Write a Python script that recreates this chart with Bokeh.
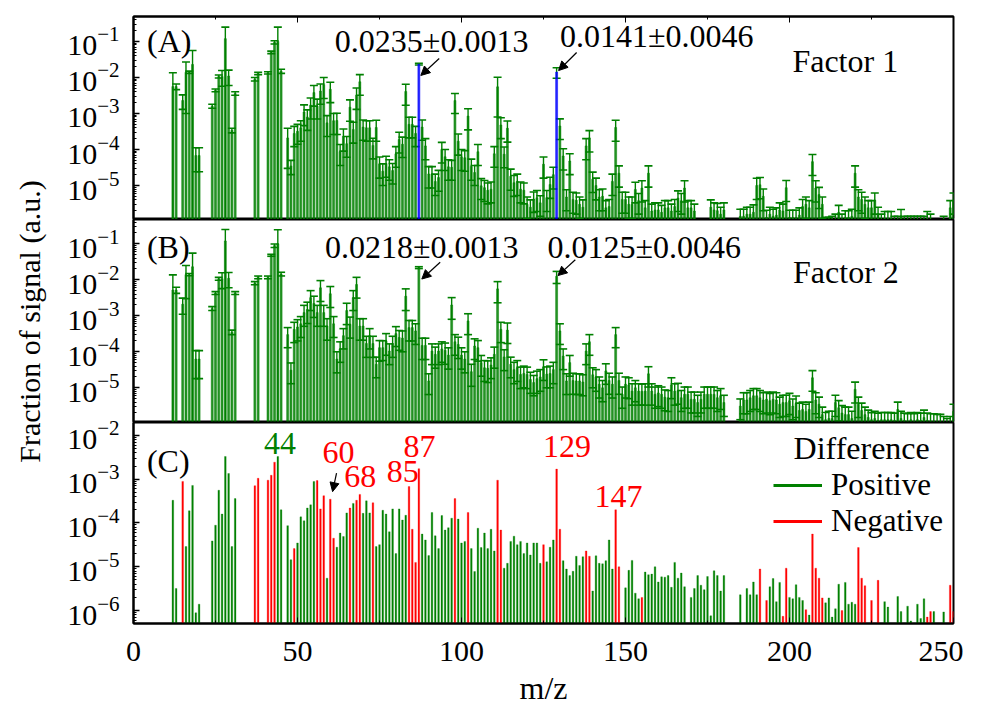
import math
from bokeh.plotting import figure
from bokeh.layouts import column, row
from bokeh.models import (ColumnDataSource, Whisker, TeeHead, Label, Arrow, NormalHead,
                          Range1d, Legend, LegendItem, FixedTicker, LinearAxis)
from bokeh.embed import file_html
from bokeh.resources import INLINE

FONT = "Liberation Serif"
GREEN = "#008000"
RED = "#ff0000"
BLUE = "#0000ff"

# ---------------- data ----------------
mz = ([12, 13, 15, 16, 17, 18, 19, 20, 24, 25, 26, 27, 28, 29, 30, 31, 37, 38, 41, 42, 43, 44, 45]
      + list(range(47, 181)) + list(range(185, 251)))

# Factor 1 (panel A): value and uncertainty
f1_val = [5.6e-3, 5.6e-3, 2.3e-3, 1.4e-2, 1.4e-2, 2.3e-2, 6.8e-5, 6.8e-5,
          1.6e-3, 4.4e-3, 1.07e-2, 1.07e-2, 1.2e-1, 1.1e-2, 3.4e-4, 3.6e-3,
          9.0e-3, 1.3e-2, 1.35e-2, 5.0e-2, 9.5e-2, 1.0e-1, 1.5e-2,
          # 47-86
          2.1e-4, 3.5e-5, 2.8e-4, 3.2e-4, 4.0e-4, 1.1e-3, 8.0e-4, 1.7e-3, 3.8e-3, 1.6e-3,
          4.2e-3, 6.3e-3, 5.5e-4, 4.7e-3, 6.3e-4, 6.4e-4, 8.7e-5, 2.3e-4, 1.45e-4, 1.5e-3,
          3.6e-4, 3.2e-3, 7.6e-3, 4.2e-4, 4.0e-4, 4.0e-4, 1.3e-4, 4.1e-4, 3.9e-5, 2.5e-5,
          4.1e-5, 3.3e-5, 2.6e-5, 7.6e-5, 1.9e-4, 1.4e-4, 4.1e-3, 5.0e-4, 5.0e-4, 2.8e-4,
          # 87-126
          2.35e-2, 4.2e-4, 1.26e-4, 2.1e-5, 2.1e-5, 1.3e-5, 1.66e-5, 1.0e-4, 6.3e-5, 3.3e-5,
          3.2e-5, 2.3e-3, 1.7e-4, 6.3e-5, 5.9e-5, 8.5e-4, 3.4e-5, 2.3e-5, 8.7e-5, 9.8e-6,
          8.7e-6, 7.4e-6, 7.9e-6, 7.6e-5, 5.5e-3, 4.8e-4, 7.4e-5, 3.9e-4, 1.8e-5, 1.2e-5,
          1.3e-5, 7.9e-6, 7.4e-6, 3.0e-6, 2.5e-6, 4.2e-6, 4.6e-6, 3.3e-6, 3.9e-5, 4.6e-6,
          # 127-166
          1.07e-5, 2.0e-5, 1.41e-2, 4.5e-4, 6.6e-5, 4.8e-6, 4.8e-5, 4.1e-6, 3.9e-6, 3.0e-6,
          2.5e-6, 1.26e-4, 2.1e-4, 1.5e-5, 1.0e-5, 4.8e-6, 5.0e-6, 2.4e-6, 2.6e-6, 1.3e-5,
          4.1e-4, 2.2e-5, 4.1e-6, 4.1e-6, 3.0e-6, 3.0e-6, 7.8e-6, 3.8e-6, 8.5e-6, 2.4e-6,
          2.2e-5, 1.95e-6, 2.1e-6, 2.1e-6, 1.8e-6, 2.4e-6, 2.4e-6, 1.95e-6, 2.6e-6, 4.5e-6,
          # 167-180
          3.8e-6, 8.5e-6, 2.4e-6, 2.4e-6, 1.95e-6, 9e-7, 9e-7, 9e-7, 9e-7, 2.5e-6,
          2.1e-6, 2.0e-6, 1.6e-6, 2.1e-6,
          # 185-250
          1.4e-6, 1.4e-6, 1.6e-6, 1.6e-6, 1.8e-6, 1.0e-5, 1.05e-5, 5.0e-6, 1.3e-6, 1.6e-6,
          1.4e-6, 1.5e-6, 2.1e-6, 1.95e-6, 8.7e-6, 1.3e-6, 1.3e-6, 1.3e-6, 1.5e-6, 2.6e-6,
          3.0e-6, 2.4e-6, 4.6e-5, 8.5e-6, 5.6e-6, 3.0e-6, 1.0e-6, 1.0e-6, 1.1e-6, 1.1e-6,
          1.8e-6, 1.1e-6, 1.3e-6, 1.3e-6, 1.4e-6, 2.2e-5, 4.8e-6, 4.1e-6, 3.0e-6, 2.4e-6,
          2.4e-6, 3.9e-6, 1.6e-6, 1.1e-6, 1.2e-6, 1.2e-6, 1.2e-6, 1.0e-6, 1.0e-6, 1.35e-6,
          1.0e-6, 1.0e-6, 1.0e-6, 1.0e-6, 1.0e-6, 1.0e-6, 1.0e-6, 1.2e-6, 1.1e-6, 9e-7,
          9e-7, 9e-7, 1.0e-6, 9e-7, 2.4e-6, 3.9e-6]
f1_err = [8.0e-3, 1.0e-3, 1.0e-3, 1.3e-2, 1.0e-3, 3.3e-2, 4.4e-5, 4.4e-5,
          2.0e-4, 4.0e-4, 1.0e-3, 5.0e-3, 1.3e-1, 5.0e-3, 5.0e-5, 4.0e-4,
          1.0e-3, 1.0e-3, 1.0e-3, 4.0e-3, 1.0e-2, 1.5e-1, 2.0e-3,
          1.8e-4, 1.5e-5, 1.6e-4, 1.8e-4, 2.3e-4, 6.4e-4, 4.6e-4, 1.0e-3, 2.2e-3, 9.0e-4,
          2.4e-3, 3.7e-3, 3.2e-4, 2.7e-3, 3.7e-4, 3.8e-4, 5.1e-5, 1.4e-4, 8.4e-5, 8.9e-4,
          2.1e-4, 1.9e-3, 4.4e-3, 2.4e-4, 2.3e-4, 2.3e-4, 7.5e-5, 2.4e-4, 2.3e-5, 1.5e-5,
          2.4e-5, 1.9e-5, 1.5e-5, 4.4e-5, 1.1e-4, 8.0e-5, 2.4e-3, 2.9e-4, 2.9e-4, 1.6e-4,
          1.3e-3, 2.4e-4, 7.4e-5, 1.25e-5, 1.25e-5, 7.7e-6, 9.7e-6, 5.8e-5, 3.7e-5, 1.9e-5,
          1.8e-5, 1.3e-3, 1.0e-4, 3.7e-5, 3.4e-5, 5.0e-4, 2.0e-5, 1.3e-5, 5.1e-5, 5.7e-6,
          5.1e-6, 4.3e-6, 4.6e-6, 4.4e-5, 4.7e-3, 2.8e-4, 4.3e-5, 2.3e-4, 1.06e-5, 7.0e-6,
          7.7e-6, 4.6e-6, 4.3e-6, 1.8e-6, 1.5e-6, 2.4e-6, 2.7e-6, 1.9e-6, 2.3e-5, 2.7e-6,
          6.3e-6, 1.2e-5, 4.6e-3, 2.6e-4, 3.9e-5, 2.8e-6, 2.8e-5, 2.4e-6, 2.3e-6, 1.8e-6,
          1.5e-6, 7.4e-5, 1.25e-4, 8.6e-6, 6.0e-6, 2.8e-6, 3.0e-6, 1.4e-6, 1.5e-6, 7.7e-6,
          2.4e-4, 1.3e-5, 2.4e-6, 2.4e-6, 1.8e-6, 1.8e-6, 4.5e-6, 2.2e-6, 5.0e-6, 1.4e-6,
          1.3e-5, 1.1e-6, 1.2e-6, 1.2e-6, 1.0e-6, 1.4e-6, 1.4e-6, 1.1e-6, 1.5e-6, 2.6e-6,
          2.2e-6, 5.0e-6, 1.4e-6, 1.4e-6, 1.1e-6, 2e-7, 2e-7, 2e-7, 2e-7, 1.5e-6,
          1.2e-6, 1.2e-6, 9e-7, 1.2e-6,
          8e-7, 8e-7, 9e-7, 9e-7, 1.1e-6, 5.9e-6, 6.2e-6, 3.0e-6, 7.5e-7, 9e-7,
          8e-7, 9e-7, 1.2e-6, 1.1e-6, 5.1e-6, 7.5e-7, 7.5e-7, 7.5e-7, 9e-7, 1.5e-6,
          1.8e-6, 1.4e-6, 2.7e-5, 5.0e-6, 3.3e-6, 1.8e-6, 3e-7, 3e-7, 3e-7, 5e-7,
          1.0e-6, 5e-7, 7e-7, 7e-7, 8e-7, 1.3e-5, 2.8e-6, 2.4e-6, 1.8e-6, 1.4e-6,
          1.4e-6, 2.3e-6, 9e-7, 5e-7, 7e-7, 7e-7, 7e-7, 4e-7, 4e-7, 8e-7,
          4e-7, 4e-7, 4e-7, 4e-7, 4e-7, 4e-7, 4e-7, 7e-7, 5e-7, 2e-7,
          2e-7, 2e-7, 4e-7, 2e-7, 1.4e-6, 2.3e-6]

# Factor 2 (panel B)
f2_val = [5.2e-3, 5.2e-3, 2.1e-3, 1.4e-2, 1.4e-2, 2.3e-2, 6.3e-5, 6.3e-5,
          1.6e-3, 4.3e-3, 1.07e-2, 1.07e-2, 1.2e-1, 1.1e-2, 3.5e-4, 4.3e-3,
          8.1e-3, 1.17e-2, 1.17e-2, 4.8e-2, 8.9e-2, 1.0e-1, 1.45e-2,
          3.0e-4, 3.1e-5, 4.2e-4, 4.9e-4, 6.0e-4, 1.23e-3, 1.5e-3, 3.2e-3, 2.2e-3, 1.23e-3,
          6.0e-3, 1.23e-3, 5.2e-4, 4.1e-3, 6.0e-4, 6.3e-5, 1.2e-4, 2.8e-4, 1.4e-3, 5.8e-4,
          3.2e-3, 7.4e-3, 5.2e-4, 5.2e-4, 1.7e-4, 2.8e-4, 1.7e-4, 4.5e-5, 1.3e-4, 1.3e-4,
          2.0e-4, 1.05e-4, 1.7e-4, 3.2e-4, 2.5e-4, 2.4e-4, 3.5e-3, 4.7e-4, 4.7e-4, 3.8e-4,
          2.18e-2, 1.5e-4, 1.5e-4, 1.55e-5, 1.05e-4, 8.5e-5, 1.05e-4, 1.2e-4, 1.1e-4, 8.1e-5,
          2.0e-3, 1.9e-4, 1.6e-4, 8.1e-5, 6.3e-5, 7.2e-4, 2.8e-5, 1.45e-4, 1.3e-4, 5.0e-5,
          3.6e-5, 3.5e-5, 4.3e-5, 8.5e-5, 5.6e-3, 4.2e-4, 7.2e-5, 4.0e-4, 4.5e-5, 3.2e-5,
          3.6e-5, 2.35e-5, 2.5e-5, 2.35e-5, 1.7e-5, 1.4e-5, 1.8e-5, 2.0e-5, 3.8e-5, 2.4e-5,
          2.5e-5, 3.2e-5, 1.25e-2, 3.8e-4, 7.6e-5, 1.55e-5, 5.0e-5, 1.6e-5, 1.55e-5, 1.55e-5,
          1.45e-5, 1.05e-4, 1.9e-4, 2.3e-5, 2.0e-5, 1.26e-5, 1.0e-5, 2.95e-5, 1.6e-5, 1.26e-5,
          3.0e-4, 1.6e-5, 6.6e-6, 1.26e-5, 1.2e-5, 8.1e-6, 1.0e-5, 8.1e-6, 8.0e-6, 8.1e-6,
          2.45e-5, 8.1e-6, 6.6e-6, 7.2e-6, 6.6e-6, 5.5e-6, 5.3e-6, 1.2e-5, 8.1e-6, 8.4e-6,
          5.3e-6, 6.6e-6, 6.6e-6, 4.8e-6, 4.8e-6, 3.9e-6, 4.8e-6, 6.6e-6, 6.6e-6, 6.6e-6,
          6.6e-6, 5.3e-6, 6.0e-6, 3.9e-6,
          3.1e-6, 4.6e-6, 4.6e-6, 5.3e-6, 6.0e-6, 6.0e-6, 5.3e-6, 4.6e-6, 4.8e-6, 4.4e-6,
          4.8e-6, 4.6e-6, 3.5e-6, 3.9e-6, 3.9e-6, 4.4e-6, 3.1e-6, 3.7e-6, 2.35e-6, 2.5e-6,
          2.2e-6, 2.5e-6, 1.9e-5, 4.6e-6, 3.5e-6, 1.8e-6, 1.3e-6, 1.4e-6, 1.4e-6, 3.9e-6,
          2.8e-6, 2.0e-6, 1.8e-6, 1.8e-6, 1.4e-6, 9.1e-6, 3.5e-6, 2.35e-6, 1.8e-6, 1.5e-6,
          1.3e-6, 1.4e-6, 1.25e-6, 1.3e-6, 1.3e-6, 1.3e-6, 1.3e-6, 1.25e-6, 2.5e-6, 1.4e-6,
          1.25e-6, 1.2e-6, 1.3e-6, 1.2e-6, 1.3e-6, 1.25e-6, 1.5e-6, 1.25e-6, 1.2e-6, 1.2e-6,
          1.15e-6, 1.15e-6, 1.0e-6, 9e-7, 1.0e-6, 2.2e-6]
f2_err = [8.5e-3, 1.0e-3, 1.0e-3, 1.1e-2, 1.0e-3, 3.2e-2, 4.5e-5, 4.5e-5,
          2.0e-4, 4.0e-4, 1.0e-3, 5.0e-3, 1.3e-1, 5.0e-3, 5.0e-5, 4.0e-4,
          8.0e-4, 1.0e-3, 1.0e-3, 3.0e-3, 1.0e-2, 1.45e-1, 1.7e-3,
          1.7e-4, 1.8e-5, 2.4e-4, 2.9e-4, 3.5e-4, 7.2e-4, 8.9e-4, 1.8e-3, 1.3e-3, 7.2e-4,
          3.5e-3, 7.2e-4, 3.1e-4, 2.4e-3, 3.5e-4, 3.7e-5, 6.9e-5, 1.6e-4, 8.3e-4, 3.4e-4,
          1.8e-3, 4.3e-3, 3.1e-4, 3.1e-4, 1.0e-4, 1.6e-4, 1.0e-4, 2.6e-5, 7.5e-5, 7.3e-5,
          1.2e-4, 6.1e-5, 1.0e-4, 1.8e-4, 1.4e-4, 1.4e-4, 2.1e-3, 2.7e-4, 2.7e-4, 2.2e-4,
          1.3e-3, 8.9e-5, 8.9e-5, 9.0e-6, 6.1e-5, 5.0e-5, 6.1e-5, 6.9e-5, 6.5e-5, 4.8e-5,
          1.2e-3, 1.1e-4, 9.5e-5, 4.8e-5, 3.7e-5, 4.2e-4, 1.7e-5, 8.4e-5, 7.5e-5, 2.9e-5,
          2.1e-5, 2.1e-5, 2.5e-5, 5.0e-5, 3.3e-3, 2.4e-4, 4.2e-5, 2.3e-4, 2.6e-5, 1.9e-5,
          2.1e-5, 1.4e-5, 1.5e-5, 1.4e-5, 1.0e-5, 8.0e-6, 1.1e-5, 1.2e-5, 2.2e-5, 1.4e-5,
          1.5e-5, 1.9e-5, 4.6e-3, 2.2e-4, 4.4e-5, 9.0e-6, 2.9e-5, 9.4e-6, 9.0e-6, 9.0e-6,
          8.5e-6, 6.1e-5, 1.1e-4, 1.3e-5, 1.2e-5, 7.4e-6, 5.9e-6, 1.7e-5, 9.4e-6, 7.4e-6,
          1.7e-4, 9.4e-6, 3.9e-6, 7.4e-6, 7.0e-6, 4.8e-6, 5.9e-6, 4.8e-6, 4.7e-6, 4.8e-6,
          1.4e-5, 4.8e-6, 3.9e-6, 4.2e-6, 3.9e-6, 3.2e-6, 3.1e-6, 7.0e-6, 4.8e-6, 4.9e-6,
          3.1e-6, 3.9e-6, 3.9e-6, 2.8e-6, 2.8e-6, 2.3e-6, 2.8e-6, 3.9e-6, 3.9e-6, 3.9e-6,
          3.9e-6, 3.1e-6, 3.5e-6, 2.3e-6,
          1.8e-6, 2.7e-6, 2.7e-6, 3.1e-6, 3.5e-6, 3.5e-6, 3.1e-6, 2.7e-6, 2.8e-6, 2.6e-6,
          2.8e-6, 2.7e-6, 2.0e-6, 2.3e-6, 2.3e-6, 2.6e-6, 1.8e-6, 2.2e-6, 1.4e-6, 1.5e-6,
          1.3e-6, 1.5e-6, 1.1e-5, 2.7e-6, 2.0e-6, 1.1e-6, 7.7e-7, 8.3e-7, 8.3e-7, 2.3e-6,
          1.6e-6, 1.2e-6, 1.1e-6, 1.1e-6, 8.3e-7, 5.3e-6, 2.0e-6, 1.4e-6, 1.1e-6, 9e-7,
          7.5e-7, 8.3e-7, 7.3e-7, 7.7e-7, 7.7e-7, 7.5e-7, 7.5e-7, 7.3e-7, 1.5e-6, 8.3e-7,
          7.3e-7, 7e-7, 7.7e-7, 7e-7, 7.7e-7, 7.3e-7, 9e-7, 7.3e-7, 7e-7, 7e-7,
          6.8e-7, 6.8e-7, 6e-7, 5e-7, 6e-7, 1.3e-6]

# Difference (panel C): positive -> green, negative -> red, 0 -> not shown
diff = [3.3e-4, 3.2e-6, -8.9e-4, 2.9e-5, 1.9e-4, 7.2e-4, 8.9e-7, 1.4e-6,
        3.9e-5, 8.9e-5, 5.6e-4, 1.6e-4, 3.3e-3, 1.35e-3, 2.9e-5, 3.6e-4,
        -7.1e-4, -1.05e-3, -9.5e-4, -1.23e-3, -2.45e-3, 3.3e-3, 2.0e-4,
        8.7e-5, 1.45e-5, -2.6e-5, 3.5e-5, 1.38e-4, 1.12e-4, 2.2e-4, 2.6e-4, 8.9e-4, -9.3e-4,
        -2.1e-4, -4.2e-4, 5.5e-6, -3.5e-4, -4.5e-5, 2.8e-5, 5.9e-5, 4.9e-5, 1.7e-4, -2.2e-4,
        2.8e-4, -3.3e-4, -4.5e-4, 1.66e-4, 3.2e-4, 1.7e-4, -2.9e-4, 2.9e-5, 3.2e-5, 1.95e-4,
        1.6e-4, 6.3e-5, 2.1e-4, 2.0e-5, 2.1e-4, 1.17e-4, 1.5e-4, -6.8e-4, -7.2e-5, -1.26e-5,
        -1.74e-3, 5.6e-5, 4.1e-5, 1.8e-5, 1.74e-4, 5.1e-5, 2.6e-5, 1.48e-4, 6.9e-5, 7.8e-5,
        1.29e-4, -3.6e-4, 1.23e-4, 3.5e-5, 3.8e-5, -1.74e-4, 2.6e-5, 7.8e-6, 7.6e-5, 2.75e-5,
        5.9e-5, 2.6e-5, 7.2e-5, 2.3e-5, -9.5e-4, -6.9e-5, 9.3e-6, 1.2e-5, 3.8e-5, 5.0e-5,
        3.2e-5, 3.8e-5, 2.0e-5, 3.5e-5, 1.86e-5, 3.5e-5, 3.5e-5, 1.2e-5, -3.2e-5, 1.3e-5,
        2.8e-5, 4.1e-5, -1.7e-3, -7.2e-5, 1.38e-5, 8.9e-6, 6.3e-6, 7.9e-6, 1.74e-5, 1.07e-5,
        1.7e-5, -2.3e-5, -1.74e-5, 2.8e-6, 1.78e-5, 1.2e-5, 1.17e-5, 1.38e-5, 4.1e-5, 8.9e-6,
        -2.0e-4, -1.0e-5, 0, 3.3e-6, 8.3e-6, 1.4e-5, 2.5e-6, 1.86e-6, -2.0e-6, 7.6e-6,
        6.6e-6, 6.8e-6, 1.0e-5, 4.5e-6, 5.9e-6, 5.8e-6, 6.3e-6, 3.4e-6, 1.26e-5, 5.5e-6,
        7.2e-6, 3.5e-6, 0, 2.0e-6, 3.2e-6, 6.3e-6, 3.8e-6, 3.0e-6, 6.0e-6, 7.6e-7,
        8.1e-6, 6.3e-6, 2.8e-6, 6.3e-6,
        2.3e-6, 0, 3.2e-6, 2.3e-6, 4.5e-6, 2.3e-6, -8.9e-6, 0, -1.7e-6, 3.5e-6,
        5.4e-6, 1.6e-6, 4.4e-6, -7.4e-7, -9.3e-6, 2.0e-6, 1.86e-6, 3.9e-6, 2.0e-6, 1.7e-6,
        -1.05e-6, 7.9e-7, -5.6e-5, -9.3e-6, -5.5e-6, -1.95e-6, 1.5e-6, 1.95e-6, 7.1e-7, 1.1e-6,
        4.0e-6, -1.0e-6, 4.4e-6, 1.4e-6, 1.55e-6, 1.4e-6, -2.75e-5, -5.5e-6, -3.7e-6, 0,
        -1.7e-6, 0, -4.9e-6, 0, 1.6e-6, 1.2e-6, 0, 0, 2.1e-6, 9.5e-7,
        0, 1.26e-6, 5.8e-7, 0, 1.4e-6, 6.6e-7, 1.86e-6, -7.1e-7, -9.5e-7, 9.5e-7,
        0, 0, 9.3e-7, 0, -3.8e-6, -9.5e-7]

highlight_f1 = [87, 129]   # bars drawn in blue in panel A

x_ticks = [0, 50, 100, 150, 200, 250]
x_minor = [25, 75, 125, 175, 225]

# ---------------- layout constants ----------------
LABEL_W = 60          # narrow column holding the shared y-axis title
W = 903               # width of each panel figure
TOP = 16
H_A = TOP + 203
H_B = 203
OVL = 14              # panel C canvas reaches up over B's bottom strip (transparent)
BOT = 84
H_C = OVL + 202 + BOT
H_ALL = H_A + H_B + H_C - OVL
FLOOR = 1e-12


def log_ticks(lo, hi):
    major = [10.0 ** e for e in range(lo, hi + 1)]
    minor = [k * 10.0 ** e for e in range(lo - 1, hi + 1) for k in range(2, 10)]
    return FixedTicker(ticks=major, minor_ticks=minor)


def base_fig(height, yr, top, bottom, xaxis):
    p = figure(width=W, height=height, x_range=Range1d(0, 250), y_range=Range1d(*yr),
               y_axis_type="log", output_backend="svg", toolbar_location=None,
               x_axis_location="below" if xaxis else None,
               min_border_left=133 - LABEL_W, min_border_right=10,
               min_border_top=top, min_border_bottom=bottom)
    p.grid.visible = False
    p.outline_line_color = "black"
    p.outline_line_width = 2
    p.outline_line_alpha = 1
    p.background_fill_color = "white"
    p.border_fill_color = "white"
    for ax in p.yaxis:
        ax.axis_line_width = 2
        ax.major_tick_in = 6
        ax.major_tick_out = 0
        ax.minor_tick_in = 3
        ax.minor_tick_out = 0
        ax.major_tick_line_width = 1.5
        ax.major_label_text_font = FONT
        ax.major_label_text_font_size = "30px"
        ax.major_label_text_color = "black"
        ax.major_label_standoff = 14
    return p


def add_label(p, x, y, text, color="black", size="32px"):
    p.add_layout(Label(x=x, y=y, text=text, text_font=FONT, text_font_size=size,
                       text_color=color, text_align="center", text_baseline="middle"))


def add_arrow(p, x0, y0, x1, y1):
    p.add_layout(Arrow(end=NormalHead(size=9, fill_color="black", line_color="black"),
                       x_start=x0, y_start=y0, x_end=x1, y_end=y1,
                       line_color="black", line_width=1.2))


def factor_panel(p, vals, errs, highlight):
    colors = [BLUE if m in highlight else GREEN for m in mz]
    src = ColumnDataSource(dict(
        x=mz, top=vals, color=colors,
        upper=[v + e for v, e in zip(vals, errs)],
        lower=[max(v - e, FLOOR) for v, e in zip(vals, errs)]))
    p.vbar(x="x", top="top", bottom=FLOOR, width=0.6, fill_color="color",
           line_color="color", line_width=0.5, fill_alpha=0.85, source=src)
    p.add_layout(Whisker(source=src, base="x", upper="upper", lower="lower",
                         dimension="height", line_color=GREEN, line_width=1.4,
                         upper_head=TeeHead(size=8, line_color=GREEN, line_width=1.6),
                         lower_head=TeeHead(size=8, line_color=GREEN, line_width=1.6)))


# ---------------- shared y-axis title ----------------
pL = figure(width=LABEL_W, height=H_ALL, x_range=Range1d(0, LABEL_W),
            y_range=Range1d(H_ALL, 0), output_backend="svg", toolbar_location=None,
            x_axis_location=None, y_axis_location=None,
            min_border_left=0, min_border_right=0, min_border_top=0, min_border_bottom=0)
pL.grid.visible = False
pL.outline_line_color = None
pL.add_layout(Label(x=29, y=321, text="Fraction of signal (a.u.)", angle=math.pi / 2,
                    text_font=FONT, text_font_size="30px", text_color="black",
                    text_align="center", text_baseline="middle"))

# ---------------- panel A ----------------
pA = base_fig(H_A, (1.138e-6, 0.494), TOP, 0, False)
pA.yaxis.ticker = log_ticks(-5, -1)
top_axis = LinearAxis(ticker=FixedTicker(ticks=x_ticks, minor_ticks=x_minor),
                      major_label_text_font_size="1px", major_label_text_color=None,
                      major_label_standoff=0,
                      major_tick_in=6, major_tick_out=0, minor_tick_in=3, minor_tick_out=0,
                      axis_line_width=2)
pA.add_layout(top_axis, "above")
factor_panel(pA, f1_val, f1_err, highlight_f1)
add_label(pA, 10.9, 0.1, "(A)")
add_label(pA, 90.9, 0.1, "0.0235±0.0013")
add_arrow(pA, 93.2, 0.0337, 87.6, 0.0114)
add_label(pA, 159.5, 0.1377, "0.0141±0.0046")
add_arrow(pA, 135.1, 0.0495, 129.6, 0.0156)
add_label(pA, 217.0, 0.0278, "Factor 1")

# ---------------- panel B ----------------
pB = base_fig(H_B, (1.087e-6, 0.473), 0, 0, False)
pB.yaxis.ticker = log_ticks(-5, -1)
factor_panel(pB, f2_val, f2_err, [])
add_label(pB, 10.6, 0.0841, "(B)")
add_label(pB, 87.9, 0.0841, "0.0218±0.0013")
add_arrow(pB, 93.5, 0.0308, 87.9, 0.0105)
add_label(pB, 155.7, 0.0841, "0.0125±0.0046")
add_arrow(pB, 134.7, 0.036, 129.4, 0.0131)
add_label(pB, 217.2, 0.017, "Factor 2")

# ---------------- panel C ----------------
pC = base_fig(H_C, (5.07e-7, 0.0197), OVL, BOT, True)
pC.border_fill_alpha = 0
pC.styles = {"margin-top": f"-{OVL}px"}
pC.yaxis.ticker = log_ticks(-6, -2)
xa = pC.xaxis[0]
xa.ticker = FixedTicker(ticks=x_ticks, minor_ticks=x_minor)
xa.axis_line_width = 2
xa.major_tick_in = 6
xa.major_tick_out = 0
xa.minor_tick_in = 3
xa.minor_tick_out = 0
xa.major_label_text_font = FONT
xa.major_label_text_font_size = "30px"
xa.major_label_text_color = "black"
xa.major_label_standoff = 18
xa.axis_label = "m/z"
xa.axis_label_text_font = FONT
xa.axis_label_text_font_size = "32px"
xa.axis_label_text_font_style = "normal"
xa.axis_label_text_color = "black"
xa.axis_label_standoff = 6

cx = [m for m, d in zip(mz, diff) if d != 0]
ctop = [abs(d) for d in diff if d != 0]
ccol = [GREEN if d > 0 else RED for d in diff if d != 0]
pC.vbar(source=ColumnDataSource(dict(x=cx, top=ctop, c=ccol)),
        x="x", top="top", bottom=FLOOR, width=0.5, fill_color="c", line_color="c",
        line_width=0.3)

add_label(pC, 10.6, 2.57e-3, "(C)")
add_label(pC, 44.7, 6.58e-3, "44", GREEN)
add_label(pC, 62.5, 4.11e-3, "60", RED)
add_label(pC, 69.1, 1.17e-3, "68", RED)
add_label(pC, 82.1, 1.52e-3, "85", RED)
add_label(pC, 87.2, 5.62e-3, "87", RED)
add_label(pC, 132.2, 5.62e-3, "129", RED)
add_label(pC, 147.9, 4.11e-4, "147", RED)
add_arrow(pC, 61.9, 1.37e-3, 60.7, 5.2e-4)
add_label(pC, 222.0, 5.07e-3, "Difference")

# legend key lines (renderers placed left of the visible x-range: key glyphs only)
r_pos = pC.line(x=[-20, -10], y=[1e-4, 1e-4], line_color=GREEN, line_width=3)
r_neg = pC.line(x=[-20, -10], y=[1e-4, 1e-4], line_color=RED, line_width=3)
legend = Legend(items=[LegendItem(label="Positive", renderers=[r_pos]),
                       LegendItem(label="Negative", renderers=[r_neg])],
                location=(640, 84), glyph_width=49, glyph_height=34, label_height=30,
                label_standoff=9, label_text_font=FONT, label_text_font_size="31px",
                label_text_color="black",
                padding=0, margin=0, spacing=-4, border_line_alpha=0,
                background_fill_alpha=0)
pC.add_layout(legend)

layout = row(pL, column(pA, pB, pC, spacing=0), spacing=0)
open("out.html", "w").write(file_html(layout, INLINE))
